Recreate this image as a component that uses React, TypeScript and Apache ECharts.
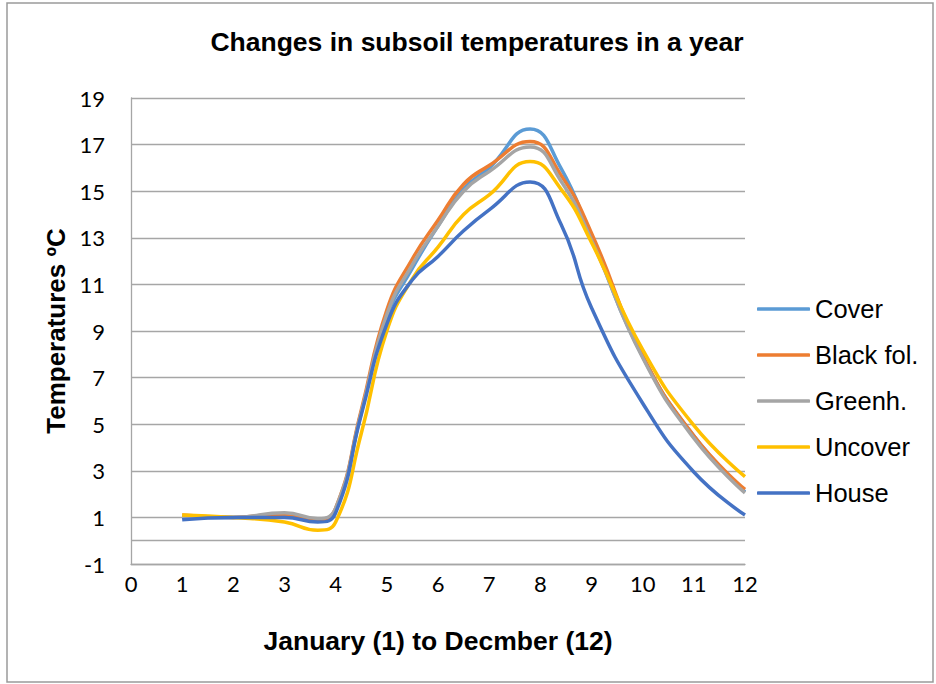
import React, { useEffect, useRef } from "react";
import * as echarts from "echarts";

const months = [1, 2, 3, 3.65, 4, 4.5, 5, 5.5, 6, 6.5, 7, 7.8, 8.4, 9, 10, 11, 12];
const cover = [1.0, 1.0, 1.05, 0.85, 1.3, 5.5, 9.6, 11.7, 13.5, 15.1, 16.0, 17.67, 16.0, 13.0, 7.9, 4.5, 2.1];
const blackFol = [1.1, 1.0, 1.15, 0.9, 1.4, 5.6, 9.9, 12.1, 13.75, 15.3, 16.1, 17.13, 15.7, 13.2, 7.95, 4.5, 2.2];
const greenh = [1.05, 1.0, 1.2, 0.95, 1.4, 5.5, 9.7, 11.85, 13.5, 15.0, 15.84, 16.9, 15.45, 12.9, 7.85, 4.4, 2.05];
const uncover = [1.1, 1.0, 0.8, 0.45, 0.8, 4.6, 9.0, 11.25, 12.6, 14.0, 14.84, 16.27, 15.1, 12.8, 8.2, 4.95, 2.75];
const house = [0.9, 1.0, 1.0, 0.8, 1.2, 5.4, 9.3, 11.2, 12.2, 13.3, 14.2, 15.4, 13.6, 10.0, 5.9, 2.95, 1.1];

const seriesNames = ["Cover", "Black fol.", "Greenh.", "Uncover", "House"];
const seriesValues = [cover, blackFol, greenh, uncover, house];
const colors = ["#5B9BD5", "#ED7D31", "#A5A5A5", "#FFC000", "#4472C4"];

const titleText = "Changes in subsoil temperatures in a year";
const xName = "January (1) to Decmber (12)";
const yName = "Temperatures ºC";

export default function App() {
  const ref = useRef<HTMLDivElement>(null);
  useEffect(() => {
    if (!ref.current) return;
    const chart = echarts.init(ref.current, undefined, { renderer: "svg" });
    const series: any[] = seriesNames.map((name, i) => ({
      name,
      type: "line",
      smooth: true,
      symbol: "none",
      data: months.map((m, j) => [m, seriesValues[i][j]]),
      lineStyle: { color: colors[i], width: 3.5 },
      itemStyle: { color: colors[i] },
      z: 3 + i,
    }));
    series[0].markLine = {
      silent: true,
      symbol: "none",
      label: { show: false },
      lineStyle: { color: "#A6A6A6", width: 1.3, type: "solid" },
      data: [{ yAxis: 0 }],
      z: 1,
    };
    chart.setOption({
      animation: false,
      backgroundColor: "#ffffff",
      color: colors,
      title: {
        text: titleText,
        left: 472,
        top: 23,
        textAlign: "center",
        textStyle: {
          fontFamily: "Liberation Sans, Arial, sans-serif",
          fontWeight: "bold",
          fontSize: 26.5,
          color: "#000",
        },
      },
      legend: {
        orient: "vertical",
        left: 752,
        top: 291,
        icon: "roundRect",
        itemWidth: 53,
        itemHeight: 3.5,
        itemGap: 20,
        data: seriesNames,
        textStyle: {
          fontFamily: "Liberation Sans, Arial, sans-serif",
          fontSize: 25.5,
          lineHeight: 26,
          color: "#000",
        },
      },
      grid: { left: 131, top: 98, width: 614, height: 466 },
      xAxis: {
        type: "value",
        min: 0,
        max: 12,
        interval: 1,
        name: xName,
        nameLocation: "middle",
        nameGap: 63,
        nameTextStyle: {
          fontFamily: "Liberation Sans, Arial, sans-serif",
          fontWeight: "bold",
          fontSize: 26.5,
          color: "#000",
        },
        axisLine: { onZero: false, lineStyle: { color: "#A6A6A6", width: 1.3 } },
        axisTick: { show: false },
        splitLine: { show: false },
        axisLabel: {
          fontFamily: "Lato, sans-serif",
          fontSize: 22,
          color: "#000",
          margin: 8,
        },
      },
      yAxis: {
        type: "value",
        min: -1,
        max: 19,
        interval: 2,
        name: yName,
        nameLocation: "middle",
        nameGap: 62,
        nameTextStyle: {
          fontFamily: "Liberation Sans, Arial, sans-serif",
          fontWeight: "bold",
          fontSize: 26,
          color: "#000",
        },
        axisLine: { show: true, lineStyle: { color: "#A6A6A6", width: 1.3 } },
        axisTick: { show: false },
        splitLine: { show: true, lineStyle: { color: "#A6A6A6", width: 1.3 } },
        axisLabel: {
          fontFamily: "Lato, sans-serif",
          fontSize: 22,
          color: "#000",
          margin: 26,
        },
      },
      graphic: [
        {
          type: "rect",
          shape: { x: 7, y: 3, width: 926, height: 679 },
          style: { fill: "none", stroke: "#9a9a9a", lineWidth: 1.5 },
          silent: true,
          z: -1,
        },
      ],
      series,
    });
    return () => chart.dispose();
  }, []);
  return (
    <div
      ref={ref}
      style={{ position: "fixed", left: 0, top: 0, width: 936, height: 684 }}
    />
  );
}
